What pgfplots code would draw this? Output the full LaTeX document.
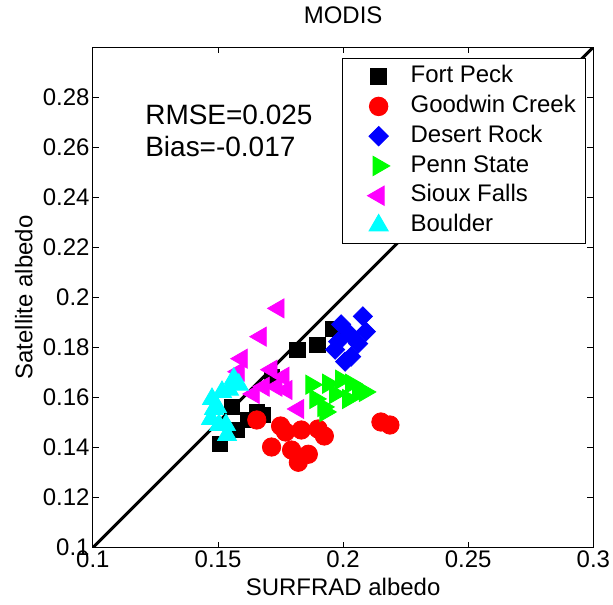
\documentclass[border=0pt]{standalone}
\usepackage{fontspec}
\setmainfont{Liberation Sans}
\usepackage{pgfplots}
\pgfplotsset{compat=1.18}
\definecolor{mred}{rgb}{1,0,0}
\definecolor{mblue}{rgb}{0,0,1}
\definecolor{mgreen}{rgb}{0,1,0}
\definecolor{mmag}{rgb}{1,0,1}
\definecolor{mcyan}{rgb}{0,1,1}
\pgfplotsset{lgimg/.style={legend image code/.code={\path[draw=none,fill=none] (0pt,0pt) -- (24pt,0pt);\draw[mark repeat=2,mark phase=2,##1] plot coordinates {(0pt,0pt)(14pt,0pt)(24pt,0pt)};}}}
\begin{document}
\begin{tikzpicture}
\begin{axis}[name=ax, scale only axis, width=250.5pt, height=250.5pt,
  xmin=0.1, xmax=0.3, ymin=0.1, ymax=0.3,
  xtick={0.1,0.15,0.2,0.25,0.3}, xticklabels={0.1,0.15,0.2,0.25,0.3},
  ytick={0.1,0.12,0.14,0.16,0.18,0.2,0.22,0.24,0.26,0.28},
  yticklabels={0.1,0.12,0.14,0.16,0.18,0.2,0.22,0.24,0.26,0.28},
  scaled ticks=false,
  tick align=inside, tick pos=both, major tick length=3pt,
  axis line style={black, line width=0.5pt},
  tick style={black, line width=0.5pt},
  tick label style={font=\fontsize{12}{14}\selectfont, inner sep=1.5pt},
  /pgf/number format/assume math mode=true,
  title={MODIS}, title style={font=\fontsize{12}{14}\selectfont, at={(axis description cs:0.5,1.04)}, anchor=center},
  xlabel={SURFRAD albedo}, ylabel={Satellite albedo},
  every axis x label/.style={at={(axis description cs:0.5,-0.078)}, anchor=center, font=\fontsize{12}{14}\selectfont},
  every axis y label/.style={at={(axis description cs:-0.138,0.5)}, rotate=90, anchor=center, font=\fontsize{12}{14}\selectfont},
  legend cell align=left,
  legend style={at={(axis description cs:0.986,0.978)}, anchor=north east, draw=black, line width=0.5pt,
    font=\fontsize{12}{14}\selectfont, inner xsep=4pt, inner ysep=2.5pt, row sep=1.9pt, column sep=5pt,
    nodes={inner sep=1pt, text height=8.6pt, text depth=2.4pt}},
]
\addplot[black, line width=1.5pt, forget plot] coordinates {(0.1,0.1) (0.3,0.3)};
\addplot[only marks, lgimg, black, mark=square*, mark size=3.9pt] coordinates {
 (0.1507,0.1415) (0.1575,0.1471) (0.1619,0.1511) (0.1655,0.1543) (0.1555,0.1563)
 (0.1679,0.1531) (0.1715,0.1683) (0.1818,0.1790) (0.1898,0.1810) (0.1962,0.1874)};
\addlegendentry{Fort Peck}
\addplot[only marks, lgimg, mred, mark=*, mark size=4.6pt] coordinates {
 (0.1655,0.1510) (0.1750,0.1486) (0.1770,0.1462) (0.1714,0.1402) (0.1794,0.1390)
 (0.1821,0.1341) (0.1861,0.1373) (0.1833,0.1470) (0.1900,0.1474) (0.1925,0.1446)
 (0.2151,0.1502) (0.2187,0.1490)};
\addlegendentry{Goodwin Creek}
\addplot[only marks, lgimg, mblue, mark=square*, mark size=3.4pt, mark options={rotate=45}] coordinates {
 (0.1992,0.1892) (0.2079,0.1924) (0.2091,0.1863) (0.2028,0.1851) (0.1968,0.1791)
 (0.2032,0.1763) (0.2060,0.1815) (0.1980,0.1823) (0.2008,0.1743)};
\addlegendentry{Desert Rock}
\addplot[only marks, lgimg, mgreen, mark=triangle*, mark size=5.5pt, mark options={rotate=-90}] coordinates {
 (0.1873,0.1651) (0.1940,0.1655) (0.1992,0.1671) (0.2032,0.1655) (0.2087,0.1622)
 (0.1968,0.1614) (0.2020,0.1594) (0.1921,0.1562) (0.1889,0.1594) (0.2060,0.1622)
 (0.1929,0.1542)};
\addlegendentry{Penn State}
\addplot[only marks, lgimg, mmag, mark=triangle*, mark size=5.5pt, mark options={rotate=90}] coordinates {
 (0.1742,0.1956) (0.1671,0.1843) (0.1595,0.1755) (0.1583,0.1703) (0.1714,0.1711)
 (0.1643,0.1614) (0.1683,0.1643) (0.1734,0.1643) (0.1774,0.1630) (0.1821,0.1554)
 (0.1762,0.1683)};
\addlegendentry{Sioux Falls}
\addplot[only marks, lgimg, mcyan, mark=triangle*, mark size=5.5pt] coordinates {
 (0.1476,0.1594) (0.1484,0.1554) (0.1472,0.1514) (0.1516,0.1622) (0.1563,0.1675)
 (0.1544,0.1631) (0.1532,0.1490) (0.1536,0.1450) (0.1504,0.1490) (0.1583,0.1651)
 (0.1496,0.1562)};
\addlegendentry{Boulder}
\node[anchor=base west, inner sep=0pt, font=\fontsize{14}{16}\selectfont] at (axis cs:0.1208,0.2689) {RMSE=0.025};
\node[anchor=base west, inner sep=0pt, font=\fontsize{14}{16}\selectfont] at (axis cs:0.1208,0.2561) {Bias=-0.017};
\end{axis}
\path ([xshift=-46.5pt,yshift=-28.5pt]ax.south west) rectangle ([xshift=9.5pt,yshift=22.5pt]ax.north east);
\end{tikzpicture}
\end{document}
